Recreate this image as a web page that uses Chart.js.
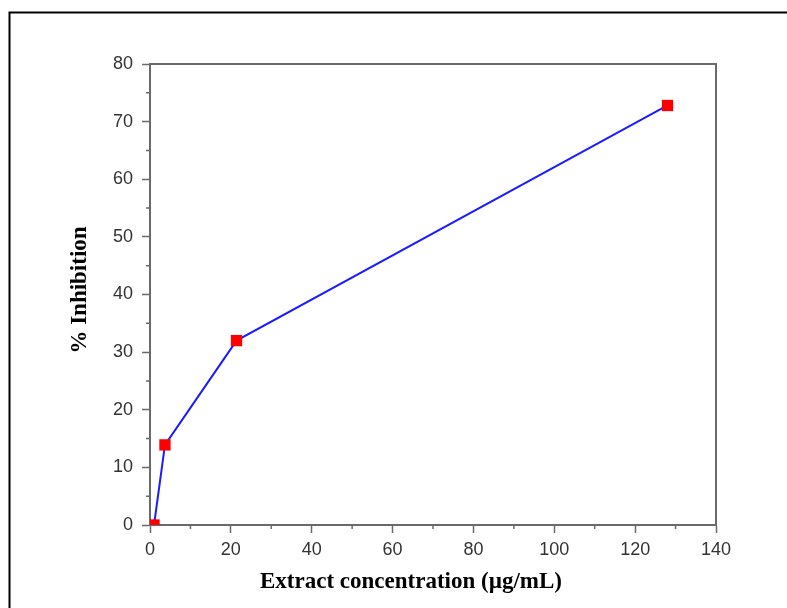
<!DOCTYPE html>
<html>
<head>
<meta charset="utf-8">
<script src="https://cdn.jsdelivr.net/npm/chart.js@4/dist/chart.umd.min.js"></script>
<style>
  body { margin: 0; background: #fff; }
  #wrap { width: 787px; height: 608px; position: relative; }
</style>
</head>
<body>
<div id="wrap"><canvas id="inhibitionChart"></canvas></div>
<script>
// data
const concentrations = [1, 3.7, 21.4, 128];
const inhibition = [0, 13.9, 32, 72.8];
const xTitle = "Extract concentration (\u00b5g/mL)";
const yTitle = "% Inhibition";

const axisGray = "#6a6a6a";
const labelColor = "#333333";

// frame, minor ticks, axis titles and the outer box
const extras = {
  id: "extras",
  afterDraw(chart) {
    const ctx = chart.ctx;
    const a = chart.chartArea;
    const xs = chart.scales.x;
    const ys = chart.scales.y;
    ctx.save();

    // top + right sides of the frame
    ctx.strokeStyle = axisGray;
    ctx.lineWidth = 2;
    ctx.beginPath();
    ctx.moveTo(a.left, a.top);
    ctx.lineTo(a.right, a.top);
    ctx.lineTo(a.right, a.bottom);
    ctx.stroke();

    // minor ticks
    ctx.lineWidth = 1.5;
    ctx.beginPath();
    for (let v = 10; v < 140; v += 20) {
      const px = xs.getPixelForValue(v);
      ctx.moveTo(px, a.bottom);
      ctx.lineTo(px, a.bottom + 4);
    }
    for (let v = 5; v < 80; v += 10) {
      const py = ys.getPixelForValue(v);
      ctx.moveTo(a.left, py);
      ctx.lineTo(a.left - 4, py);
    }
    ctx.stroke();

    // axis titles
    ctx.fillStyle = "#000";
    ctx.font = "bold 23px 'Liberation Serif', 'Times New Roman', serif";
    ctx.textAlign = "center";
    ctx.textBaseline = "middle";
    ctx.fillText(xTitle, 411, 582);
    ctx.translate(80, 290);
    ctx.rotate(-Math.PI / 2);
    ctx.fillText(yTitle, 0, 0);
    ctx.restore();

    // outer black box
    ctx.save();
    ctx.strokeStyle = "#000";
    ctx.lineWidth = 2;
    ctx.beginPath();
    ctx.moveTo(9.5, 608);
    ctx.lineTo(9.5, 12.5);
    ctx.lineTo(787, 12.5);
    ctx.stroke();
    ctx.restore();
  }
};

const ctx = document.getElementById("inhibitionChart").getContext("2d");
new Chart(ctx, {
  type: "line",
  data: {
    datasets: [{
      data: concentrations.map((c, i) => ({ x: c, y: inhibition[i] })),
      borderColor: "#1c1cff",
      borderWidth: 2,
      pointStyle: "rect",
      pointRadius: 8,
      pointBackgroundColor: "#ff0000",
      pointBorderColor: "#ff0000",
      pointBorderWidth: 0,
      tension: 0
    }]
  },
  options: {
    responsive: true,
    maintainAspectRatio: false,
    animation: false,
    layout: { padding: { left: 10, right: 71, top: 64, bottom: 0 } },
    plugins: {
      legend: { display: false },
      tooltip: { enabled: false }
    },
    scales: {
      x: {
        type: "linear",
        min: 0,
        max: 140,
        afterFit(scale) { scale.height = 83; },
        border: { color: axisGray, width: 2 },
        grid: { drawOnChartArea: false, drawTicks: true, tickLength: 8, tickColor: axisGray, tickWidth: 1.5 },
        ticks: {
          stepSize: 20,
          padding: 6,
          color: labelColor,
          font: { family: "'Liberation Sans', Arial, sans-serif", size: 18 }
        }
      },
      y: {
        type: "linear",
        min: 0,
        max: 80,
        afterFit(scale) { scale.width = 140; },
        border: { color: axisGray, width: 2 },
        grid: { drawOnChartArea: false, drawTicks: true, tickLength: 8, tickColor: axisGray, tickWidth: 1.5 },
        ticks: {
          stepSize: 10,
          padding: 9,
          color: labelColor,
          font: { family: "'Liberation Sans', Arial, sans-serif", size: 18 }
        }
      }
    }
  },
  plugins: [extras]
});
</script>
</body>
</html>
